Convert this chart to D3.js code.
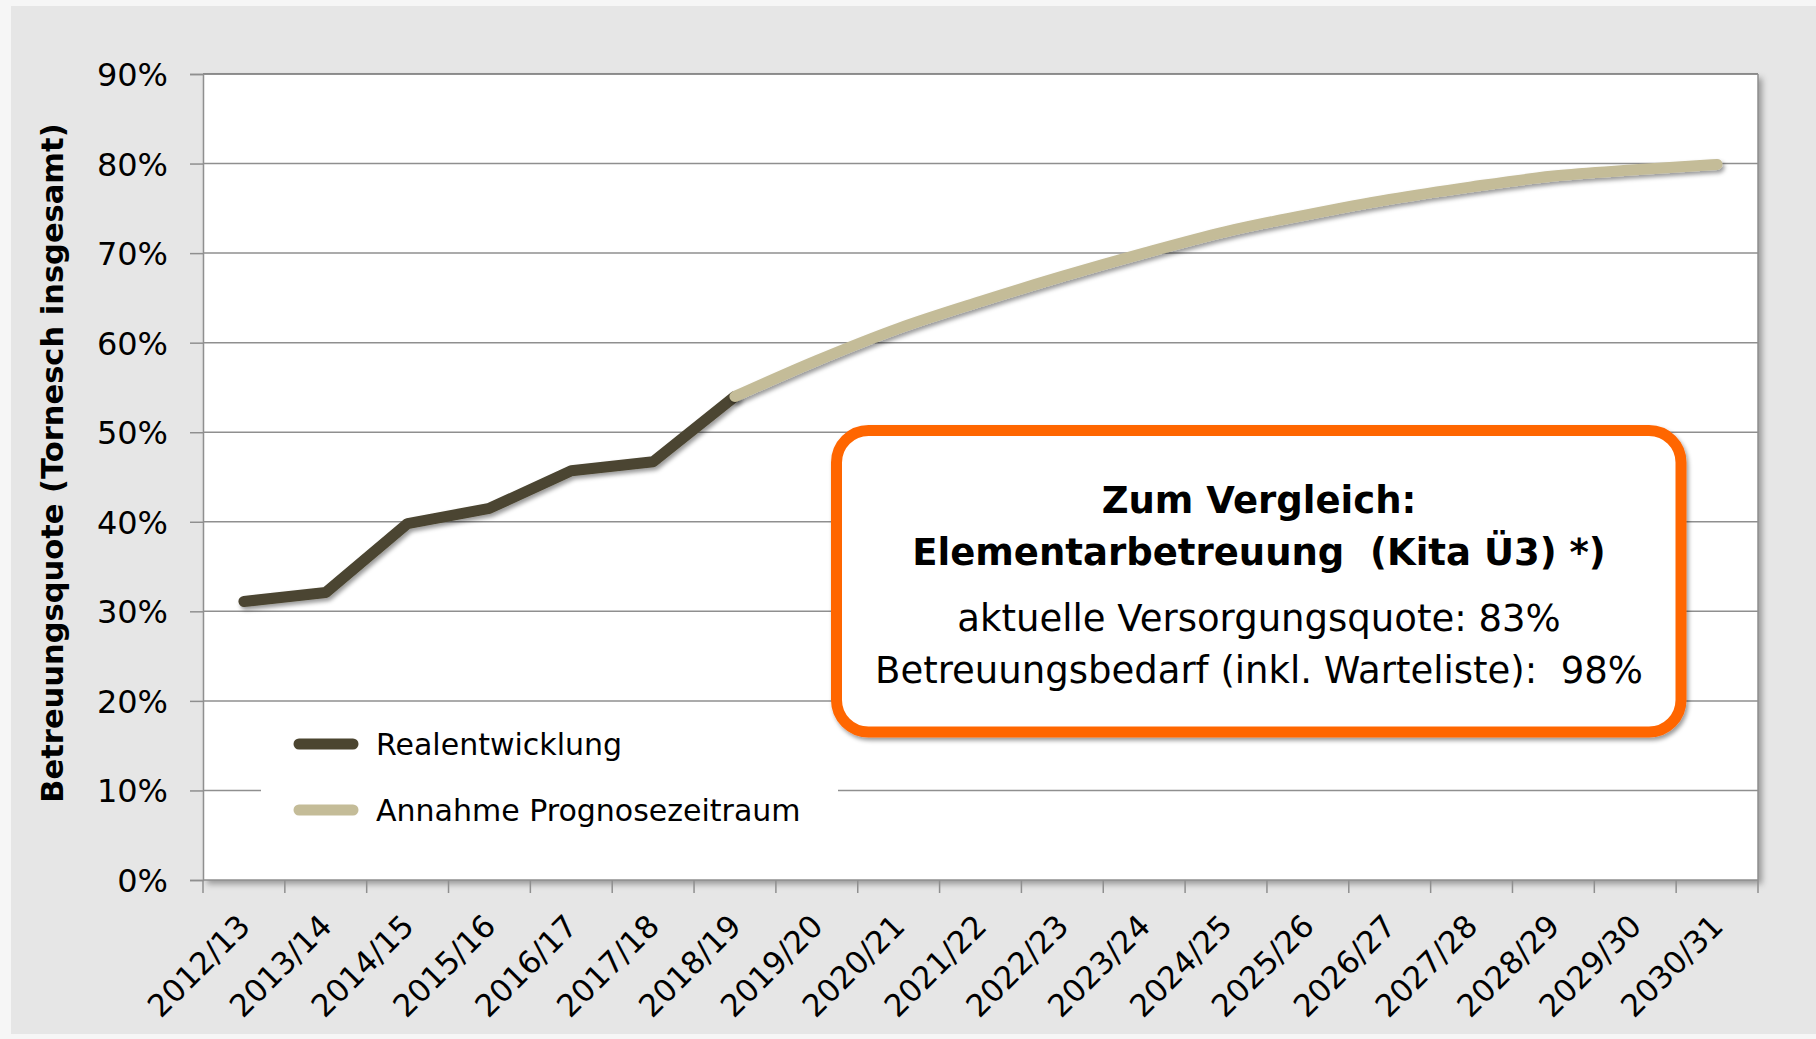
<!DOCTYPE html>
<html>
<head>
<meta charset="utf-8">
<script src="https://cdn.jsdelivr.net/npm/d3@7"></script>
<style>
  body { margin: 0; background: #f6f6f6; }
  svg text { font-family: 'DejaVu Sans', Verdana, sans-serif; fill: #000; }
</style>
</head>
<body>
<svg width="1816" height="1039"></svg>
<script>
const years = ['2012/13', '2013/14', '2014/15', '2015/16', '2016/17', '2017/18', '2018/19',
  '2019/20', '2020/21', '2021/22', '2022/23', '2023/24', '2024/25', '2025/26',
  '2026/27', '2027/28', '2028/29', '2029/30', '2030/31']

// Realentwicklung 2012/13 - 2018/19
const realYears = years.slice(0, 7)
const realValues = [31.1, 32.1, 39.8, 41.5, 45.7, 46.7, 54.0]

// Annahme Prognosezeitraum 2018/19 - 2030/31
const forecastYears = years.slice(6)
const forecastValues = [54.0, 58.0, 61.6, 64.6, 67.4, 70.0, 72.4, 74.3, 76.0, 77.4, 78.6, 79.3, 79.9]

const yTicks = [0, 10, 20, 30, 40, 50, 60, 70, 80, 90]

const legendItems = ['Realentwicklung', 'Annahme Prognosezeitraum']
const noteLines = ['Zum Vergleich:', 'Elementarbetreuung  (Kita Ü3) *)',
  'aktuelle Versorgungsquote: 83%', 'Betreuungsbedarf (inkl. Warteliste):  98%']

const darkColor = '#4b4530'
const lightColor = '#c4bc98'

let margin = { left: 203, top: 74, right: 58, bottom: 159 }
let w = 1816 - margin.left - margin.right
let h = 1039 - margin.top - margin.bottom

let svg = d3.select('svg')

// filters for the excel-ish shadows
let defs = svg.append('defs')
defs.append('filter').attr('id', 'plotShadow')
  .attr('x', '-5%').attr('y', '-5%').attr('width', '110%').attr('height', '110%')
  .append('feDropShadow')
  .attr('dx', 4).attr('dy', 4).attr('stdDeviation', 3)
  .attr('flood-color', '#000').attr('flood-opacity', 0.35)
defs.append('filter').attr('id', 'lineShadow')
  .attr('x', '-10%').attr('y', '-10%').attr('width', '120%').attr('height', '120%')
  .append('feDropShadow')
  .attr('dx', 2).attr('dy', 3).attr('stdDeviation', 2)
  .attr('flood-color', '#000').attr('flood-opacity', 0.4)

// grey panel
svg.append('rect')
  .attr('x', 11).attr('y', 6)
  .attr('width', 1805).attr('height', 1028)
  .attr('fill', '#e6e6e6')

let x = d3.scaleBand().domain(years).range([0, w])
let y = d3.scaleLinear().domain([0, 90]).range([h, 0])
let cx = d => x(d) + x.bandwidth() / 2

let g = svg.append('g').attr('transform', `translate(${margin.left},${margin.top})`)

// plot area
g.append('rect')
  .attr('width', w).attr('height', h)
  .attr('fill', '#fff')
  .attr('filter', 'url(#plotShadow)')

// grid lines
g.selectAll('line.grid')
  .data(yTicks.filter(d => d > 0))
  .enter().append('line')
  .attr('class', 'grid')
  .attr('x1', 0).attr('x2', w)
  .attr('y1', d => y(d)).attr('y2', d => y(d))
  .attr('stroke', d => d === 90 ? '#6e6e6e' : '#8f8f8f')
  .attr('stroke-width', 1.5)

// right border
g.append('line')
  .attr('x1', w).attr('x2', w).attr('y1', 0).attr('y2', h)
  .attr('stroke', '#8f8f8f').attr('stroke-width', 1.5)

// y axis
let yAxis = g.append('g')
  .call(d3.axisLeft(y).tickValues(yTicks).tickFormat(d => d + '%').tickSize(13).tickPadding(22))
yAxis.select('.domain').attr('stroke', '#8f8f8f').attr('stroke-width', 1.5)
yAxis.selectAll('.tick line').attr('stroke', '#8f8f8f').attr('stroke-width', 1.5)
yAxis.selectAll('.tick text')
  .attr('font-size', 32)
  .attr('dy', '0.36em')
  .style('font-family', "'DejaVu Sans', sans-serif")

// x axis
g.append('line')
  .attr('x1', 0).attr('x2', w).attr('y1', h).attr('y2', h)
  .attr('stroke', '#8f8f8f').attr('stroke-width', 1.5)

g.selectAll('line.xtick')
  .data(years.concat(['end']))
  .enter().append('line')
  .attr('class', 'xtick')
  .attr('x1', d => d === 'end' ? w : x(d))
  .attr('x2', d => d === 'end' ? w : x(d))
  .attr('y1', h).attr('y2', h + 13)
  .attr('stroke', '#8f8f8f').attr('stroke-width', 1.5)

g.selectAll('text.xlabel')
  .data(years)
  .enter().append('text')
  .attr('class', 'xlabel')
  .attr('transform', d => `translate(${cx(d) + 8},${h + 48}) rotate(-45)`)
  .attr('text-anchor', 'end')
  .attr('font-size', 31)
  .text(d => d)

// legend box (covers the 10% grid line)
let legend = g.append('g').attr('transform', `translate(${261 - margin.left},${716 - margin.top})`)
legend.append('rect')
  .attr('width', 577).attr('height', 140)
  .attr('fill', '#fff')
legend.selectAll('line')
  .data(legendItems)
  .enter().append('line')
  .attr('x1', 38).attr('x2', 92)
  .attr('y1', (d, i) => 28 + i * 66).attr('y2', (d, i) => 28 + i * 66)
  .attr('stroke', (d, i) => i === 0 ? darkColor : lightColor)
  .attr('stroke-width', 11)
  .attr('stroke-linecap', 'round')
legend.selectAll('text')
  .data(legendItems)
  .enter().append('text')
  .attr('x', 115)
  .attr('y', (d, i) => 28 + i * 66)
  .attr('dy', '0.36em')
  .attr('font-size', 30)
  .text(d => d)

// lines
let line = d3.line()
  .x(d => cx(d[0]))
  .y(d => y(d[1]))

g.append('path')
  .datum(d3.zip(realYears, realValues))
  .attr('d', line)
  .attr('fill', 'none')
  .attr('stroke', darkColor)
  .attr('stroke-width', 11)
  .attr('stroke-linejoin', 'round')
  .attr('stroke-linecap', 'round')
  .attr('filter', 'url(#lineShadow)')

g.append('path')
  .datum(d3.zip(forecastYears, forecastValues))
  .attr('d', line.curve(d3.curveMonotoneX))
  .attr('fill', 'none')
  .attr('stroke', lightColor)
  .attr('stroke-width', 11)
  .attr('stroke-linecap', 'round')
  .attr('filter', 'url(#lineShadow)')

// y axis title
svg.append('text')
  .attr('transform', `translate(63,463) rotate(-90)`)
  .attr('text-anchor', 'middle')
  .attr('font-size', 30.5)
  .attr('font-weight', 'bold')
  .text('Betreuungsquote (Tornesch insgesamt)')

// comparison note
let note = svg.append('g')
note.append('rect')
  .attr('x', 836.5).attr('y', 430.5)
  .attr('width', 844.5).attr('height', 301.5)
  .attr('rx', 32).attr('ry', 32)
  .attr('fill', '#fff')
  .attr('stroke', '#ff6600')
  .attr('stroke-width', 11)
  .attr('filter', 'url(#lineShadow)')

note.selectAll('text')
  .data(noteLines)
  .enter().append('text')
  .attr('x', 1259)
  .attr('y', (d, i) => [513, 565, 631, 683][i])
  .attr('text-anchor', 'middle')
  .attr('font-size', 37)
  .attr('font-weight', (d, i) => i < 2 ? 'bold' : 'normal')
  .style('white-space', 'pre')
  .text(d => d)
</script>
</body>
</html>
